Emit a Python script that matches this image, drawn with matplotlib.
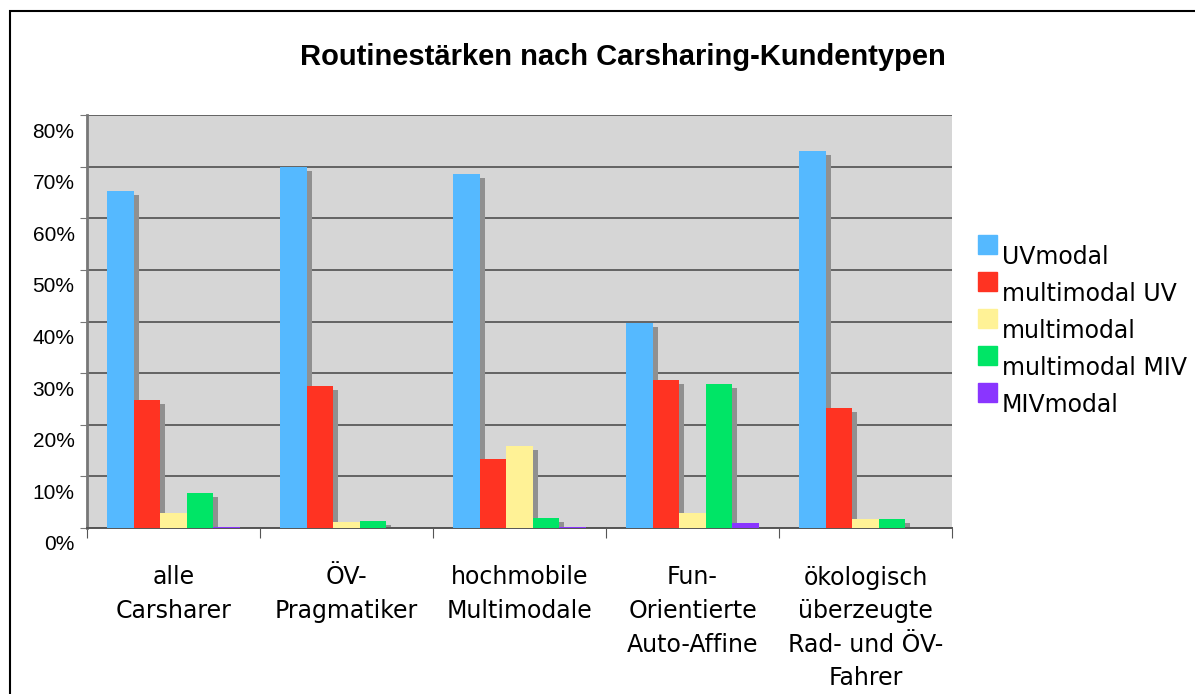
import matplotlib.pyplot as plt
import matplotlib.transforms as mtransforms
from matplotlib.patches import Rectangle
import numpy as np

categories = ['alle\nCarsharer', 'ÖV-\nPragmatiker', 'hochmobile\nMultimodale',
              'Fun-\nOrientierte\nAuto-Affine', 'ökologisch\nüberzeugte\nRad- und ÖV-\nFahrer']
series = ['UVmodal', 'multimodal UV', 'multimodal', 'multimodal MIV', 'MIVmodal']
uvmodal = [65.3, 70.0, 68.6, 39.8, 73.0]
multimodal_uv = [24.8, 27.5, 13.4, 28.7, 23.3]
multimodal = [3.0, 1.1, 15.9, 2.9, 1.8]
multimodal_miv = [6.8, 1.4, 1.9, 27.8, 1.7]
mivmodal = [0.2, 0.05, 0.2, 1.0, 0.05]
yticks = [0, 10, 20, 30, 40, 50, 60, 70, 80]

values = [uvmodal, multimodal_uv, multimodal, multimodal_miv, mivmodal]
colors = ['#55B9FF', '#FF3322', '#FFF296', '#00E566', '#8A35FF']

fig = plt.figure(figsize=(11.95, 6.94), dpi=100)
ax = fig.add_axes([87 / 1195, 1 - 528 / 694, 865 / 1195, 413 / 694])
ax.set_facecolor('#D6D6D6')

w = 0.1538
x0 = np.arange(len(categories)) + 0.1156
shadow = ax.transData + mtransforms.ScaledTranslation(5 / 100, -4 / 100, fig.dpi_scale_trans)
for k, vals in enumerate(values):
    xs = x0 + w * (k + 0.5)
    ax.bar(xs, vals, w, color='#909090', transform=shadow, zorder=2)
    ax.bar(xs, vals, w, color=colors[k], zorder=3)

ax.set_xlim(0, 5)
ax.set_ylim(0, 80)
ax.set_yticks(yticks)
ax.set_yticklabels([f'{t}%' for t in yticks], family='Liberation Sans', fontsize=15)
ax.yaxis.grid(True, color='#5a5a5a', linewidth=1.3)
ax.set_axisbelow(True)
ax.tick_params(axis='y', length=5, color='#777777', pad=4)
off = mtransforms.ScaledTranslation(0, -15 / 100, fig.dpi_scale_trans)
for lab in ax.get_yticklabels():
    lab.set_transform(lab.get_transform() + off)

ax.set_xticks(range(6))
ax.set_xticklabels([])
ax.set_xticks(np.arange(5) + 0.5, minor=True)
ax.set_xticklabels(categories, minor=True, fontsize=17, family='DejaVu Sans', linespacing=1.5)
ax.tick_params(axis='x', which='major', length=7, color='#555555')
ax.tick_params(axis='x', which='minor', length=0, pad=27)

for s in ['top', 'right']:
    ax.spines[s].set_visible(False)
ax.spines['left'].set_color('#777777')
ax.spines['left'].set_linewidth(2)
ax.spines['bottom'].set_color('#555555')
ax.spines['bottom'].set_linewidth(1.4)

fig.text(623 / 1195, 1 - 57 / 694, 'Routinestärken nach Carsharing-Kundentypen',
         ha='center', va='center', fontsize=21, fontweight='bold', family='Liberation Sans')

# legend
for k, name in enumerate(series):
    top = 235 + 37 * k
    fig.add_artist(Rectangle((978 / 1195, 1 - (top + 19) / 694), 19 / 1195, 19 / 694,
                             transform=fig.transFigure, color=colors[k]))
    fig.text(1002 / 1195, 1 - (top + 22) / 694, name, ha='left', va='center',
             fontsize=17, family='DejaVu Sans')

# outer frame
fig.add_artist(Rectangle((10 / 1195, -0.1), 1.2, 1.1 - 11 / 694, transform=fig.transFigure,
                         fill=False, edgecolor='black', linewidth=1.5))

fig.savefig('out.png', dpi=100)
